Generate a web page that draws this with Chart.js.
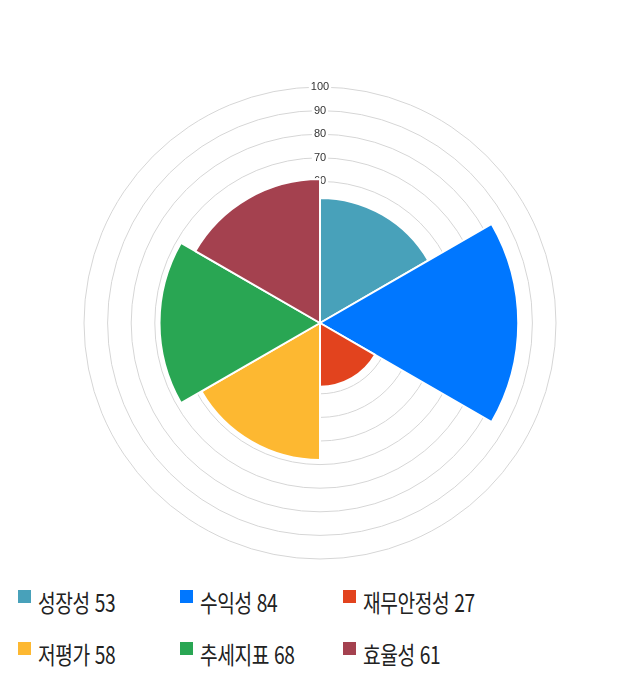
<!DOCTYPE html>
<html lang="ko">
<head>
    <meta charset="UTF-8">
    <title>Polar Area</title>
    <script src="https://cdn.jsdelivr.net/npm/chart.js"></script>
    <style>
        body, html {
            margin: 0;
            padding: 0;
            background: #fff;
            font-family: "Noto Sans CJK KR", sans-serif;
        }
        .chart-box {
            position: absolute;
            left: 0;
            top: 79px;
            width: 640px;
            height: 488px;
        }
        .legend-item {
            position: absolute;
            width: 160px;
            height: 30px;
        }
        .legend-box {
            position: absolute;
            left: 0;
            top: 0;
            width: 13px;
            height: 13px;
        }
        .legend-text {
            position: absolute;
            left: 20px;
            top: 0;
            font-size: 24px;
            line-height: 24px;
            color: #222;
            white-space: nowrap;
            letter-spacing: -0.5px;
            transform: scaleX(0.8);
            transform-origin: left top;
        }
    </style>
</head>
<body>
    <div class="chart-box">
        <canvas id="polar"></canvas>
    </div>
    <div id="legend"></div>

    <script>
        const labels = ['성장성', '수익성', '재무안정성', '저평가', '추세지표', '효율성'];
        const scores = [53, 84, 27, 58, 68, 61];
        const colors = ['#48A1BA', '#0077FF', '#E2431E', '#FDB831', '#29A653', '#A4414F'];

        new Chart(document.getElementById('polar'), {
            type: 'polarArea',
            data: {
                labels: labels,
                datasets: [{
                    data: scores,
                    backgroundColor: colors,
                    borderColor: '#fff',
                    borderWidth: 2
                }]
            },
            options: {
                responsive: true,
                maintainAspectRatio: false,
                animation: false,
                layout: { padding: 0 },
                plugins: {
                    legend: { display: false },
                    tooltip: { enabled: false }
                },
                scales: {
                    r: {
                        min: 0,
                        max: 100,
                        ticks: {
                            stepSize: 10,
                            color: '#333',
                            font: { size: 11, family: 'Liberation Sans' },
                            backdropColor: '#fff',
                            backdropPadding: 2
                        },
                        grid: { color: '#d6d6d6' },
                        angleLines: { display: false }
                    }
                }
            }
        });

        // legend in a 3 column grid under the chart
        const legend = document.getElementById('legend');
        const colX = [18, 180, 343];
        const rowY = [590, 642];
        labels.forEach((name, i) => {
            const item = document.createElement('div');
            item.className = 'legend-item';
            item.style.left = colX[i % 3] + 'px';
            item.style.top = rowY[Math.floor(i / 3)] + 'px';
            const box = document.createElement('span');
            box.className = 'legend-box';
            box.style.background = colors[i];
            const txt = document.createElement('span');
            txt.className = 'legend-text';
            txt.textContent = name + ' ' + scores[i];
            item.appendChild(box);
            item.appendChild(txt);
            legend.appendChild(item);
        });
    </script>
</body>
</html>
